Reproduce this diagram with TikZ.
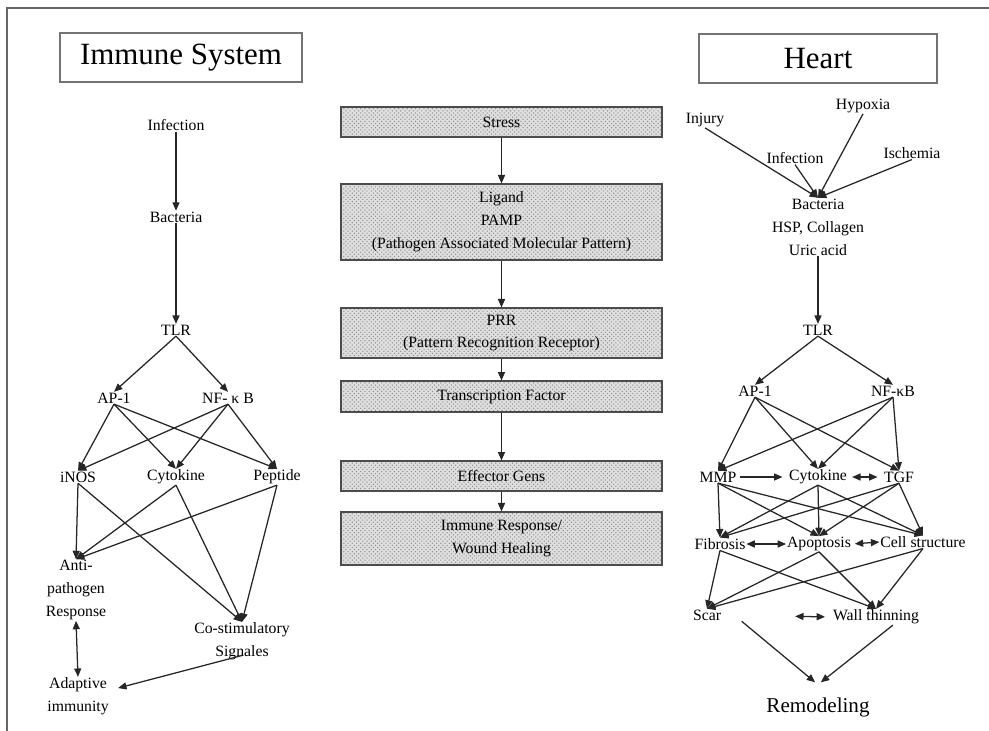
\documentclass[tikz,border=0pt]{standalone}
\usepackage{fontspec}
\setmainfont{Liberation Serif}
\usetikzlibrary{arrows.meta, patterns}

\begin{document}
\begin{tikzpicture}[
    x=0.025cm, y=-0.025cm,
    txt/.style={inner sep=0.5pt, font=\fontsize{11.2}{16.3}\selectfont, align=center},
    head/.style={rectangle, draw=black!55, line width=1pt, minimum height=1.225cm, font=\fontsize{22}{26}\selectfont},
    block/.style={rectangle, draw=black!70, line width=0.8pt, minimum width=8.025cm, preaction={fill=gray!25}, pattern=crosshatch dots, pattern color=gray!90, font=\fontsize{11.2}{16.3}\selectfont, align=center},
    arrow/.style={line width=0.9pt, draw=black!85, -{Triangle[length=6pt,width=5pt]}},
    dblarrow/.style={line width=0.9pt, draw=black!85, {Triangle[length=6pt,width=5pt]}-{Triangle[length=6pt,width=5pt]}}
]
\useasboundingbox (0,0) rectangle (989,731);

% frame
\draw [black!60, line width=1.2pt] (989,8) -- (7,8) -- (7,731);

% immune system
\node (immhead) [head, minimum width=6.05cm] at (181,57.5) {Immune System};
\node (infL) [txt] at (176,125) {Infection};
\node (bacL) [txt] at (176,217) {Bacteria};
\node (tlrL) [txt] at (176,330) {TLR};
\node (ap1L) [txt] at (114,398) {AP-1};
\node (nfkbL) [txt] at (228,398) {NF- κ B};
\node (inos) [txt] at (78,477) {iNOS};
\node (cytoL) [txt] at (176,477) {Cytokine};
\node (pept) [txt] at (277,477) {Peptide};
\node (antip) [txt] at (76,590) {Anti-\\pathogen\\Response};
\node (costim) [txt] at (242,641.5) {Co-stimulatory\\Signales};
\node (adapt) [txt] at (78,696.5) {Adaptive\\immunity};

\draw [arrow] (infL.south) -- (bacL.north);
\draw [arrow] (bacL.south) -- (tlrL.north);
\draw [arrow] (tlrL.south) -- (ap1L.north);
\draw [arrow] (tlrL.south) -- (nfkbL.north);
\draw [arrow] (ap1L.south) -- (inos.north);
\draw [arrow] (ap1L.south) -- (cytoL.north);
\draw [arrow] (ap1L.south) -- (pept.north);
\draw [arrow] (nfkbL.south) -- (inos.north);
\draw [arrow] (nfkbL.south) -- (cytoL.north);
\draw [arrow] (nfkbL.south) -- (pept.north);
\draw [arrow] (inos.south) -- (antip.north);
\draw [arrow] (inos.south) -- (costim.north);
\draw [arrow] (cytoL.south) -- (antip.north);
\draw [arrow] (cytoL.south) -- (costim.north);
\draw [arrow] (pept.south) -- (antip.north);
\draw [arrow] (pept.south) -- (costim.north);
\draw [dblarrow] (antip.south) -- (adapt.north);
\draw [arrow] ([yshift=4pt]costim.south) -- ([xshift=6pt,yshift=6pt]adapt.east);

% common pathway
\node (stress) [block, minimum height=0.75cm] at (501.5,122) {Stress};
\node (ligand) [block, minimum height=1.9cm] at (501.5,222) {Ligand\\PAMP\\(Pathogen Associated Molecular Pattern)};
\node (prr) [block, minimum height=1.25cm] at (501.5,333) {PRR\\(Pattern Recognition Receptor)};
\node (tf) [block, minimum height=0.775cm] at (501.5,396.5) {Transcription Factor};
\node (effgen) [block, minimum height=0.75cm] at (501.5,476) {Effector Gens};
\node (immresp) [block, minimum height=1.325cm] at (501.5,538.5) {Immune Response/\\Wound Healing};

\draw [arrow] (stress.south) -- (ligand.north);
\draw [arrow] (ligand.south) -- (prr.north);
\draw [arrow] (prr.south) -- (tf.north);
\draw [arrow] (tf.south) -- (effgen.north);
\draw [arrow] (effgen.south) -- (immresp.north);

% heart
\node (hearthead) [head, minimum width=5.95cm] at (818,58.5) {Heart};
\node (injury) [txt] at (705,120) {Injury};
\node (hypoxia) [txt] at (863,106) {Hypoxia};
\node (infR) [txt] at (795,158) {Infection};
\node (ischemia) [txt] at (912,153) {Ischemia};
\node (bacR) [txt] at (818,227) {Bacteria\\HSP, Collagen\\Uric acid};
\node (tlrR) [txt] at (818,330) {TLR};
\node (ap1R) [txt] at (755,391) {AP-1};
\node (nfkbR) [txt] at (893,391) {NF-κB};
\node (mmp) [txt] at (718,477) {MMP};
\node (cytoR) [txt] at (818,477) {Cytokine};
\node (tgf) [txt] at (899,477) {TGF};
\node (fibro) [txt] at (720,544) {Fibrosis};
\node (apopt) [txt] at (819,544) {Apoptosis};
\node (cellst) [txt] at (923,542) {Cell structure};
\node (scar) [txt] at (707,615) {Scar};
\node (wall) [txt] at (876,617) {Wall thinning};
\node (remod) [txt, font=\fontsize{15}{18}\selectfont] at (818,707) {Remodeling};

\draw [arrow] (injury.south) -- (bacR.north);
\draw [arrow] (infR.south) -- (bacR.north);
\draw [arrow] (hypoxia.south) -- (bacR.north);
\draw [arrow] (ischemia.south) -- (bacR.north);
\draw [arrow] (bacR.south) -- (tlrR.north);
\draw [arrow] (tlrR.south) -- (ap1R.north);
\draw [arrow] (tlrR.south) -- (nfkbR.north);
\draw [arrow] (ap1R.south) -- (mmp.north);
\draw [arrow] (ap1R.south) -- (cytoR.north);
\draw [arrow] (ap1R.south) -- (tgf.north);
\draw [arrow] (nfkbR.south) -- (mmp.north);
\draw [arrow] (nfkbR.south) -- (cytoR.north);
\draw [arrow] (nfkbR.south) -- (tgf.north);
\draw [arrow, shorten <=2pt, shorten >=4pt] (mmp.east) -- (cytoR.west);
\draw [dblarrow, shorten <=3pt, shorten >=4pt] (cytoR.east) -- (tgf.west);
\draw [arrow] (mmp.south) -- (fibro.north);
\draw [arrow] (mmp.south) -- (apopt.north);
\draw [arrow] (mmp.south) -- (cellst.north);
\draw [arrow] (cytoR.south) -- (fibro.north);
\draw [arrow] (cytoR.south) -- (apopt.north);
\draw [arrow] (cytoR.south) -- (cellst.north);
\draw [arrow] (tgf.south) -- (fibro.north);
\draw [arrow] (tgf.south) -- (apopt.north);
\draw [arrow] (tgf.south) -- (cellst.north);
\draw [dblarrow] (fibro.east) -- (apopt.west);
\draw [dblarrow, shorten <=2pt] (apopt.east) -- (cellst.west);
\draw [arrow] (fibro.south) -- (scar.north);
\draw [arrow] (fibro.south) -- (wall.north);
\draw [arrow] (apopt.south) -- (scar.north);
\draw [arrow] (apopt.south) -- (wall.north);
\draw [arrow] (cellst.south) -- (scar.north);
\draw [arrow] (cellst.south) -- (wall.north);
\draw [dblarrow, shorten <=52pt, shorten >=5pt] (scar.east) -- (wall.west);
\draw [arrow] ([xshift=14pt]scar.south east) -- ([xshift=-2pt,yshift=10pt]remod.north);
\draw [arrow] ([xshift=12pt]wall.south) -- ([xshift=2pt,yshift=10pt]remod.north);

\end{tikzpicture}
\end{document}
